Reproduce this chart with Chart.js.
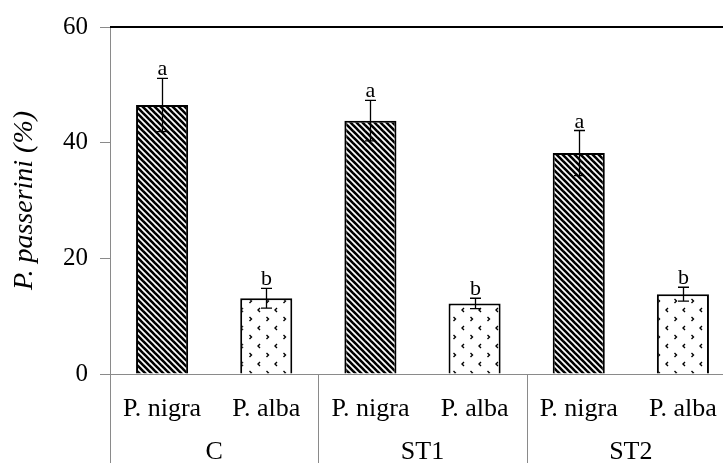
<!DOCTYPE html>
<html>
<head>
<meta charset="utf-8">
<script src="https://cdn.jsdelivr.net/npm/chart.js@4.4.0/dist/chart.umd.min.js"></script>
<style>
  html, body { margin: 0; padding: 0; background: #fff; overflow: hidden; }
  canvas { display: block; }
</style>
</head>
<body>
<canvas id="chart" width="745" height="463"></canvas>
<script>
const groups = ['C', 'ST1', 'ST2'];
const species = ['P. nigra', 'P. alba'];
const means = [46.5, 13.1, 43.8, 12.2, 38.2, 13.8];
const errors = [4.6, 1.7, 3.5, 0.9, 3.9, 1.2];
const letters = ['a', 'b', 'a', 'b', 'a', 'b'];
const yTicks = [0, 20, 40, 60];

const FONT = "'Liberation Serif', 'Times New Roman', serif";
const AXIS_GRAY = '#8a8a8a';

const labels = [];
groups.forEach(() => species.forEach(s => labels.push(s)));

function stripePattern() {
    const c = document.createElement('canvas');
    c.width = 6; c.height = 6;
    const g = c.getContext('2d');
    g.fillStyle = '#fff';
    g.fillRect(0, 0, 6, 6);
    g.strokeStyle = '#000';
    g.lineWidth = 2.6;
    for (const off of [-6, 0, 6]) {
        g.beginPath();
        g.moveTo(off - 1, -1);
        g.lineTo(off + 7, 7);
        g.stroke();
    }
    return g.createPattern(c, 'repeat');
}

function dotPattern() {
    const c = document.createElement('canvas');
    c.width = 17; c.height = 18;
    const g = c.getContext('2d');
    g.fillStyle = '#fff';
    g.fillRect(0, 0, 17, 18);
    g.strokeStyle = '#000';
    g.lineWidth = 1.4;
    // "<" mark
    g.beginPath();
    g.moveTo(5, 2); g.lineTo(3, 4); g.lineTo(5, 6);
    g.stroke();
    // ">" mark
    g.beginPath();
    g.moveTo(11.5, 11); g.lineTo(13.5, 13); g.lineTo(11.5, 15);
    g.stroke();
    return g.createPattern(c, 'repeat');
}

const ctx = document.getElementById('chart').getContext('2d');
const patNigra = stripePattern();
const patAlba = dotPattern();
const fills = labels.map(l => l === 'P. nigra' ? patNigra : patAlba);

const decorations = {
    id: 'decorations',
    afterDatasetsDraw(chart) {
        const g = chart.ctx;
        const x = chart.scales.x;
        const y = chart.scales.y;
        const area = chart.chartArea;
        const meta = chart.getDatasetMeta(0);
        g.save();
        // error bars and letters
        g.strokeStyle = '#000';
        g.lineWidth = 1.3;
        g.fillStyle = '#000';
        g.font = '22px ' + FONT;
        g.textAlign = 'center';
        g.textBaseline = 'alphabetic';
        meta.data.forEach((bar, i) => {
            const cx = Math.round(bar.x) + 0.5;
            const top = y.getPixelForValue(means[i] + errors[i]);
            const bot = y.getPixelForValue(means[i] - errors[i]);
            g.beginPath();
            g.moveTo(cx, top); g.lineTo(cx, bot);
            g.moveTo(cx - 5.5, top); g.lineTo(cx + 5.5, top);
            g.moveTo(cx - 5.5, bot); g.lineTo(cx + 5.5, bot);
            g.stroke();
            g.fillText(letters[i], cx, top - 3);
        });
        // top border
        g.strokeStyle = '#000';
        g.lineWidth = 2;
        g.beginPath();
        g.moveTo(area.left, area.top);
        g.lineTo(chart.width, area.top);
        g.stroke();
        // group separators and labels
        g.strokeStyle = AXIS_GRAY;
        g.lineWidth = 1;
        const n = species.length;
        g.font = '26px ' + FONT;
        groups.forEach((name, gi) => {
            const first = x.getPixelForValue(gi * n);
            const last = x.getPixelForValue(gi * n + n - 1);
            const half = (x.getPixelForValue(1) - x.getPixelForValue(0)) / 2;
            const l = Math.round(first - half) + 0.5;
            const r = Math.round(last + half) + 0.5;
            g.beginPath();
            g.moveTo(l, area.bottom); g.lineTo(l, chart.height);
            g.moveTo(r, area.bottom); g.lineTo(r, chart.height);
            g.stroke();
            g.fillText(name, (first + last) / 2, 459);
        });
        g.restore();
    }
};

new Chart(ctx, {
    type: 'bar',
    data: {
        labels: labels,
        datasets: [{
            data: means,
            backgroundColor: fills,
            borderColor: '#000',
            borderWidth: 2,
            borderSkipped: 'bottom',
            barPercentage: 1,
            categoryPercentage: 0.5
        }]
    },
    options: {
        responsive: false,
        animation: false,
        layout: { padding: { top: 25, right: 10, left: 0, bottom: 0 } },
        plugins: {
            legend: { display: false },
            tooltip: { enabled: false }
        },
        scales: {
            x: {
                afterFit(scale) { scale.height = 89; },
                grid: { display: false },
                border: { color: AXIS_GRAY, width: 1 },
                ticks: {
                    color: '#000',
                    padding: 12,
                    maxRotation: 0,
                    autoSkip: false,
                    font: { family: FONT, size: 26 }
                }
            },
            y: {
                min: 0,
                max: 60,
                afterFit(scale) { scale.width = 110; },
                afterBuildTicks(scale) { scale.ticks = yTicks.map(v => ({ value: v })); },
                grid: { drawOnChartArea: false, color: AXIS_GRAY, tickLength: 10 },
                border: { color: AXIS_GRAY, width: 1 },
                ticks: {
                    color: '#000',
                    padding: 12,
                    font: { family: FONT, size: 25 }
                },
                title: {
                    display: true,
                    text: 'P. passerini (%)',
                    color: '#000',
                    padding: { top: 8, bottom: 0 },
                    font: { family: FONT, size: 28, style: 'italic' }
                }
            }
        }
    },
    plugins: [decorations]
});
</script>
</body>
</html>
